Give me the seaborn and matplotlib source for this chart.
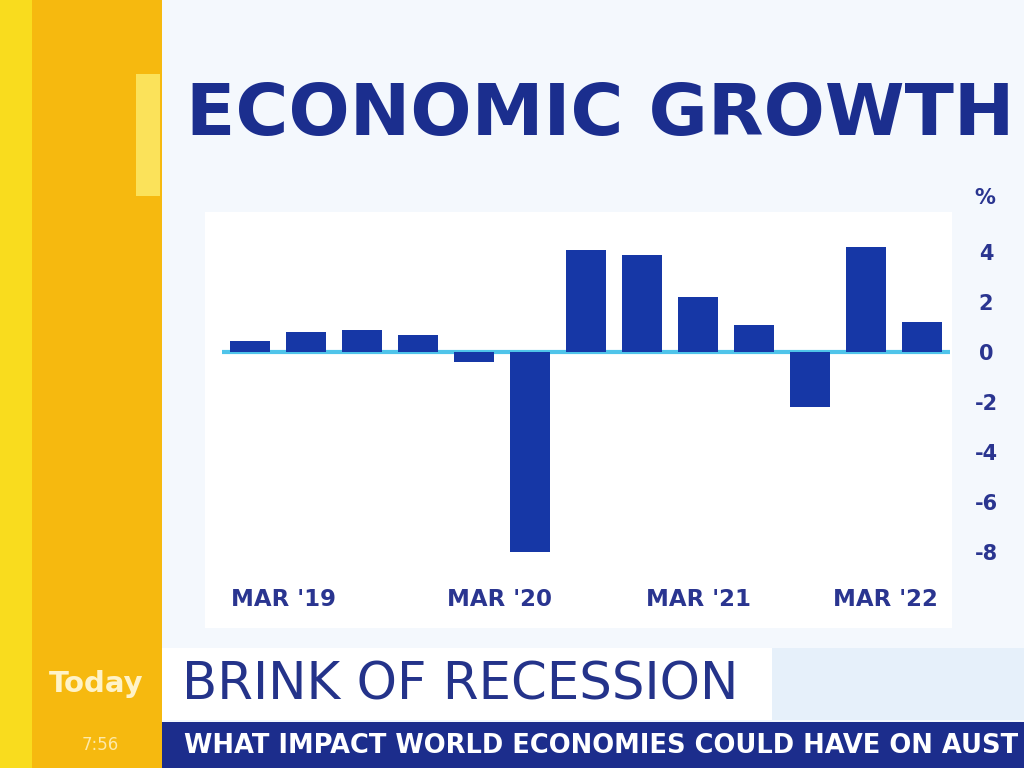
import numpy as np
import pandas as pd
import matplotlib.pyplot as plt
import matplotlib.patches as mpatches
import seaborn as sns

# ==============================
# DATA (quarterly GDP growth, %)
# ==============================
quarters = ["Mar 19", "Jun 19", "Sep 19", "Dec 19",
            "Mar 20", "Jun 20", "Sep 20", "Dec 20",
            "Mar 21", "Jun 21", "Sep 21", "Dec 21", "Mar 22"]
growth = [0.45, 0.8, 0.9, 0.7, -0.4, -8.0, 4.1, 3.9, 2.2, 1.1, -2.2, 4.2, 1.2]

x_tick_pos = [0.6, 4.45, 8.0, 11.35]
x_tick_labels = ["MAR '19", "MAR '20", "MAR '21", "MAR '22"]
y_ticks = [4, 2, 0, -2, -4, -6, -8]

title = "ECONOMIC GROWTH"
strap = "BRINK OF RECESSION"
ticker = "WHAT IMPACT WORLD ECONOMIES COULD HAVE ON AUST"

NAVY = "#1b2e8e"
BAR = "#1637a6"
ZERO = "#4fc4ea"
LABEL = "#2a3590"

df = pd.DataFrame({"quarter": quarters, "growth": growth})

sns.set_style("white")
plt.rcParams["font.family"] = ["DejaVu Sans"]

W, H = 1024, 768
fig = plt.figure(figsize=(W / 100, H / 100), dpi=100)
fig.patch.set_facecolor("#f4f8fd")


def px_rect(x0, y0, x1, y1, color, z=-5):
    # rectangle in pixel coords (origin top-left)
    fig.patches.append(mpatches.Rectangle(
        (x0 / W, 1 - y1 / H), (x1 - x0) / W, (y1 - y0) / H,
        transform=fig.transFigure, facecolor=color, edgecolor="none", zorder=z))


# ==============================
# BACKGROUND / BRANDING
# ==============================
px_rect(0, 0, 32, H, "#f9dc1e")
px_rect(32, 0, 162, H, "#f6b90f")
px_rect(136, 74, 160, 196, "#fbe25a")
px_rect(205, 212, 952, 628, "#ffffff")
px_rect(162, 648, 772, 720, "#ffffff")
px_rect(772, 648, W, 720, "#e6f0fa")
px_rect(162, 722, W, H, "#1c2d8c")

fig.text(186 / W, 1 - 115 / H, title, fontsize=52, fontweight="bold",
         color=NAVY, va="center", ha="left")
fig.text(182 / W, 1 - 686 / H, strap, fontsize=37,
         color="#24338a", va="center", ha="left")
fig.text(184 / W, 1 - 746 / H, ticker, fontsize=18.5, fontweight="bold",
         color="white", va="center", ha="left")
fig.text(96 / W, 1 - 684 / H, "Today", fontsize=21, fontweight="bold",
         color="#fff3c8", va="center", ha="center")
fig.text(100 / W, 1 - 745 / H, "7:56", fontsize=12,
         color="#fde9a8", va="center", ha="center")

# ==============================
# BAR CHART
# ==============================
ax_l, ax_r, ax_t, ax_b = 222, 950, 240, 560
ax = fig.add_axes([ax_l / W, 1 - ax_b / H, (ax_r - ax_l) / W, (ax_b - ax_t) / H])
ax.patch.set_alpha(0)

sns.barplot(data=df, x="quarter", y="growth", color=BAR, width=0.71,
            saturation=1, linewidth=0, ax=ax)
ax.axhline(0, color=ZERO, lw=3, zorder=0.5)

ax.set_xlim(-0.5, 12.5)
ax.set_ylim(-(ax_b - 352) / 25, (352 - ax_t) / 25)
for s in ax.spines.values():
    s.set_visible(False)

ax.set_xticks(x_tick_pos)
ax.set_xticklabels(x_tick_labels, fontsize=16.5, fontweight="bold", color=LABEL)
ax.tick_params(axis="x", length=0, pad=20)

ax.yaxis.tick_right()
ax.set_yticks(y_ticks)
ax.set_yticklabels([str(v) for v in y_ticks], fontsize=15, fontweight="bold",
                   color=LABEL, ha="center")
ax.tick_params(axis="y", length=0, pad=26)
ax.set_xlabel("")
ax.set_ylabel("")
fig.text(985 / W, 1 - 198 / H, "%", fontsize=15, fontweight="bold",
         color=LABEL, va="center", ha="center")

fig.savefig("out.png", dpi=100)
